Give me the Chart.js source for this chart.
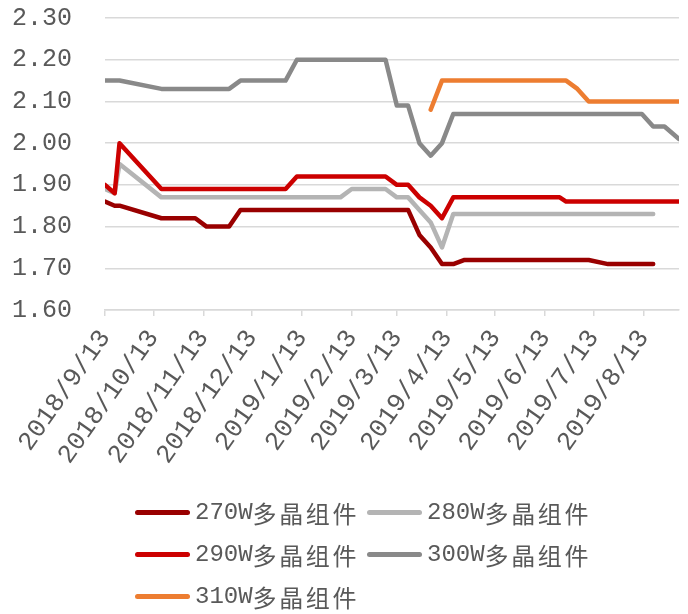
<!DOCTYPE html>
<html>
<head>
<meta charset="utf-8">
<script src="https://cdn.jsdelivr.net/npm/chart.js@4.4.1/dist/chart.umd.min.js"></script>
<style>
  body { margin: 0; background: #fff; }
  #wrap { position: relative; width: 688px; height: 614px; }
  #legend {
    position: absolute; left: 135px; top: 491px;
    display: grid; grid-template-columns: 232px 232px; grid-auto-rows: 42px;
  }
  .item { display: flex; align-items: center; color: #595959; }
  .sw { width: 55px; height: 5px; border-radius: 3px; margin-right: 5px; }
  .lat { font-family: "Liberation Mono", monospace; font-size: 24px; }
  .cjk { font-family: "Noto Sans CJK SC", sans-serif; font-size: 24px; letter-spacing: 2.6px; }
</style>
</head>
<body>
<div id="wrap">
  <canvas id="c" width="688" height="614"></canvas>
  <div id="legend"></div>
</div>
<script>
// datos (USD/W)
const dates = [
  "2018/9/13", "2018/9/19", "2018/9/22", "2018/10/18", "2018/11/8", "2018/11/15",
  "2018/11/29", "2018/12/6", "2019/1/3", "2019/1/10", "2019/2/6", "2019/2/13",
  "2019/3/6", "2019/3/13", "2019/3/20", "2019/3/27", "2019/4/3", "2019/4/10",
  "2019/4/17", "2019/4/24", "2019/6/22", "2019/6/26", "2019/7/3", "2019/7/10",
  "2019/7/22", "2019/8/12", "2019/8/19", "2019/8/26", "2019/9/4",
];
const s270 = [1.86, 1.85, 1.85, 1.82, 1.82, 1.80, 1.80, 1.84, 1.84, 1.84, 1.84, 1.84,
  1.84, 1.84, 1.84, 1.78, 1.75, 1.71, 1.71, 1.72, 1.72, 1.72, 1.72, 1.72,
  1.71, 1.71, 1.71, null, null];
const s280 = [1.89, 1.88, 1.95, 1.87, 1.87, 1.87, 1.87, 1.87, 1.87, 1.87, 1.87, 1.89,
  1.89, 1.87, 1.87, 1.84, 1.81, 1.75, 1.83, 1.83, 1.83, 1.83, 1.83, 1.83,
  1.83, 1.83, 1.83, null, null];
const s290 = [1.90, 1.88, 2.00, 1.89, 1.89, 1.89, 1.89, 1.89, 1.89, 1.92, 1.92, 1.92,
  1.92, 1.90, 1.90, 1.87, 1.85, 1.82, 1.87, 1.87, 1.87, 1.86, 1.86, 1.86,
  1.86, 1.86, 1.86, 1.86, 1.86];
const s300 = [2.15, 2.15, 2.15, 2.13, 2.13, 2.13, 2.13, 2.15, 2.15, 2.20, 2.20, 2.20,
  2.20, 2.09, 2.09, 2.00, 1.97, 2.00, 2.07, 2.07, 2.07, 2.07, 2.07, 2.07,
  2.07, 2.07, 2.04, 2.04, 2.01];
const s310 = [null, null, null, null, null, null, null, null, null, null, null, null,
  null, null, null, null, 2.08, 2.15, 2.15, 2.15, 2.15, 2.15, 2.13, 2.10,
  2.10, 2.10, 2.10, 2.10, 2.10];

const tickLabels = [
  "2018/9/13", "2018/10/13", "2018/11/13", "2018/12/13", "2019/1/13", "2019/2/13",
  "2019/3/13", "2019/4/13", "2019/5/13", "2019/6/13", "2019/7/13", "2019/8/13",
];
const names = ["270W多晶组件", "280W多晶组件", "290W多晶组件", "300W多晶组件", "310W多晶组件"];
const colors = ["#990000", "#b4b4b4", "#cc0000", "#898989", "#ed7d31"];
const series = [s270, s280, s290, s300, s310];

// días desde el inicio del eje
function dayOf(s) {
  const [y, m, d] = s.split("/").map(Number);
  return Math.round((Date.UTC(y, m - 1, d) - Date.UTC(2018, 8, 13)) / 864e5);
}
const tickDays = tickLabels.map(dayOf);

Chart.defaults.font.family = "'Liberation Mono', 'Noto Sans CJK SC', monospace";
Chart.defaults.color = "#595959";

new Chart(document.getElementById("c"), {
  type: "line",
  data: {
    datasets: series.map((vals, i) => ({
      label: names[i],
      data: vals.map((v, j) => ({ x: dayOf(dates[j]), y: v })),
      borderColor: colors[i],
      backgroundColor: colors[i],
      borderWidth: 4.5,
      borderCapStyle: "round",
      borderJoinStyle: "round",
      pointRadius: 0,
      tension: 0,
      order: series.length - i, // las últimas series encima
    })),
  },
  options: {
    responsive: false,
    animation: false,
    devicePixelRatio: 1,
    layout: { padding: { top: 18, right: 9, left: 0, bottom: 0 } },
    plugins: { legend: { display: false }, tooltip: { enabled: false } },
    scales: {
      x: {
        type: "linear",
        min: 0,
        max: dayOf("2019/9/4"),
        afterBuildTicks: (sc) => { sc.ticks = tickDays.map((v) => ({ value: v })); },
        afterFit: (sc) => { sc.height = 304; sc.paddingLeft = 0; sc.paddingRight = 0; },
        ticks: {
          autoSkip: false,
          minRotation: 55,
          maxRotation: 55,
          padding: 8,
          font: { size: 26 },
          callback: (v) => tickLabels[tickDays.indexOf(v)] || "",
        },
        grid: { drawOnChartArea: false, drawTicks: true, tickLength: 6, color: "#d9d9d9", lineWidth: 1.5 },
        border: { display: true, color: "#d9d9d9", width: 1.5 },
      },
      y: {
        min: 1.6,
        max: 2.3,
        afterFit: (sc) => { sc.width = 105; sc.paddingTop = 0; sc.paddingBottom = 0; },
        ticks: {
          stepSize: 0.1,
          padding: 33,
          font: { size: 25 },
          callback: (v) => v.toFixed(2),
        },
        grid: { color: "#d9d9d9", lineWidth: 1.5, drawTicks: false },
        border: { display: false },
      },
    },
  },
});

// leyenda en dos columnas
const leg = document.getElementById("legend");
names.forEach((n, i) => {
  const el = document.createElement("div");
  el.className = "item";
  el.innerHTML = `<span class="sw" style="background:${colors[i]}"></span>` +
    `<span class="lat">${n.slice(0, 4)}</span><span class="cjk">${n.slice(4)}</span>`;
  leg.appendChild(el);
});
</script>
</body>
</html>
